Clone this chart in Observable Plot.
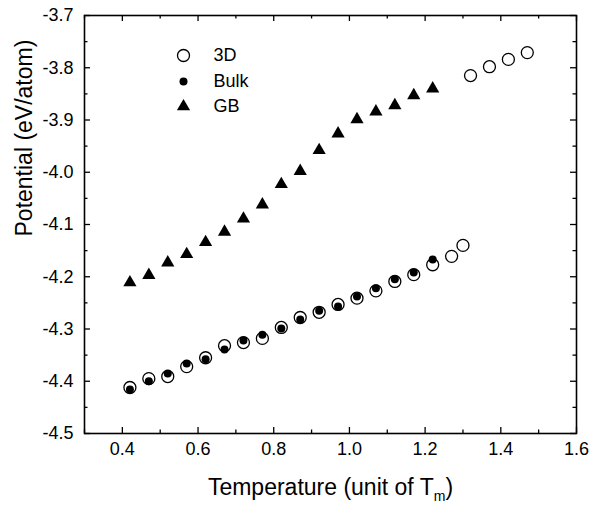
<!DOCTYPE html>
<html><head><meta charset="utf-8">
<script src="https://cdn.jsdelivr.net/npm/d3@7"></script>
<script src="https://cdn.jsdelivr.net/npm/@observablehq/plot@0.6"></script>
<style>
body{margin:0;background:#fff}
svg{font-family:"Liberation Sans",Arial,sans-serif}
</style>
</head><body><div id="chart"></div>
<script>
// ---- data ----
const tempGB  = [0.42,0.47,0.52,0.57,0.62,0.67,0.72,0.77,0.82,0.87,0.92,0.97,1.02,1.07,1.12,1.17,1.22];
const potGB   = [-4.211,-4.197,-4.173,-4.157,-4.134,-4.114,-4.089,-4.062,-4.023,-3.998,-3.958,-3.926,-3.899,-3.884,-3.872,-3.853,-3.840];
const tempBulk= [0.42,0.47,0.52,0.57,0.62,0.67,0.72,0.77,0.82,0.87,0.92,0.97,1.02,1.07,1.12,1.17,1.22];
const potBulk = [-4.416,-4.400,-4.385,-4.366,-4.358,-4.339,-4.322,-4.311,-4.299,-4.282,-4.265,-4.257,-4.238,-4.222,-4.205,-4.192,-4.167];
const temp3D  = [0.42,0.47,0.52,0.57,0.62,0.67,0.72,0.77,0.82,0.87,0.92,0.97,1.02,1.07,1.12,1.17,1.22,1.27,1.30,1.32,1.37,1.42,1.47];
const pot3D   = [-4.412,-4.395,-4.391,-4.372,-4.355,-4.332,-4.326,-4.318,-4.297,-4.278,-4.268,-4.253,-4.241,-4.227,-4.209,-4.196,-4.177,-4.161,-4.140,-3.815,-3.798,-3.784,-3.771];
const seriesNames = ["3D","Bulk","GB"];
const xMajor = [0.4,0.6,0.8,1.0,1.2,1.4,1.6];
const xMinor = [0.3,0.5,0.7,0.9,1.1,1.3,1.5];
const yMajor = [-4.5,-4.4,-4.3,-4.2,-4.1,-4.0,-3.9,-3.8,-3.7];
const yMinor = [-4.45,-4.35,-4.25,-4.15,-4.05,-3.95,-3.85,-3.75];
const xTitle = "Temperature (unit of Tm)";
const yTitle = "Potential (eV/atom)";

// ---- build ----
const W = 590, H = 509, mL = 84, mR = 14, mT = 15, mB = 76;
const iw = W - mL - mR, ih = H - mT - mB;
const d3D = temp3D.map((t,i)=>({t, p: pot3D[i]}));
const dBulk = tempBulk.map((t,i)=>({t, p: potBulk[i]}));
const dGB = tempGB.map((t,i)=>({t, p: potGB[i]}));

const styles = [
  {symbol: "circle", r: 6, fill: "none", stroke: "black", strokeWidth: 1.3},
  {symbol: "circle", r: 4, fill: "black"},
  {symbol: "triangle", r: 4.9, fill: "black"}
];
const legendDy = [40, 66, 91];

const tickMarks = (len, ticks) => [
  Plot.ruleX(ticks, {x: d=>d, insetTop: ih - len, stroke: "black", strokeWidth: 1.3}),
  Plot.ruleX(ticks, {x: d=>d, insetBottom: ih - len, stroke: "black", strokeWidth: 1.3})
];
const tickMarksY = (len, ticks) => [
  Plot.ruleY(ticks, {y: d=>d, insetRight: iw - len, stroke: "black", strokeWidth: 1.3}),
  Plot.ruleY(ticks, {y: d=>d, insetLeft: iw - len, stroke: "black", strokeWidth: 1.3})
];

const legendMarks = seriesNames.flatMap((name, i) => [
  Plot.dot([name], {frameAnchor: "top-left", dx: 99, dy: legendDy[i], ...styles[i]}),
  Plot.text([name], {frameAnchor: "top-left", dx: 129, dy: legendDy[i], text: d => d, textAnchor: "start",
    lineAnchor: "middle", fontSize: 18, fill: "black"})
]);

const chart = Plot.plot({
  width: W, height: H,
  marginLeft: mL, marginRight: mR, marginTop: mT, marginBottom: mB,
  style: {fontFamily: '"Liberation Sans", Arial, sans-serif', background: "white"},
  x: {domain: [0.3, 1.6]},
  y: {domain: [-4.5, -3.7]},
  marks: [
    Plot.axisX(xMajor, {tickSize: 0, tickPadding: 9, fontSize: 18, tickFormat: d => d.toFixed(1), label: null, fill: "black"}),
    Plot.axisY(yMajor, {tickSize: 0, tickPadding: 11, fontSize: 18, tickFormat: d => d.toFixed(1), label: null, fill: "black"}),
    ...tickMarks(6, xMajor), ...tickMarks(3.5, xMinor),
    ...tickMarksY(6, yMajor), ...tickMarksY(3.5, yMinor),
    Plot.frame({stroke: "black", strokeWidth: 1.6}),
    Plot.dot(d3D, {x: "t", y: "p", ...styles[0]}),
    Plot.dot(dBulk, {x: "t", y: "p", ...styles[1]}),
    Plot.dot(dGB, {x: "t", y: "p", ...styles[2]}),
    ...legendMarks,
    Plot.text([xTitle], {frameAnchor: "bottom", dy: 54, text: d => d, fontSize: 23, fill: "black", lineAnchor: "middle"}),
    Plot.text([yTitle], {frameAnchor: "left", dx: -60, dy: 12, rotate: -90, text: d => d, fontSize: 23, fill: "black", lineAnchor: "middle"})
  ]
});
document.getElementById("chart").appendChild(chart);

// subscript m in x title
d3.select(chart).selectAll("text").filter(function(){ return this.textContent === xTitle; })
  .each(function(){
    const s = d3.select(this);
    s.text(null);
    s.append("tspan").text("Temperature (unit of T");
    s.append("tspan").text("m").attr("font-size", 14).attr("dy", 6);
    s.append("tspan").text(")").attr("dy", -6);
  });
</script>
</body></html>
